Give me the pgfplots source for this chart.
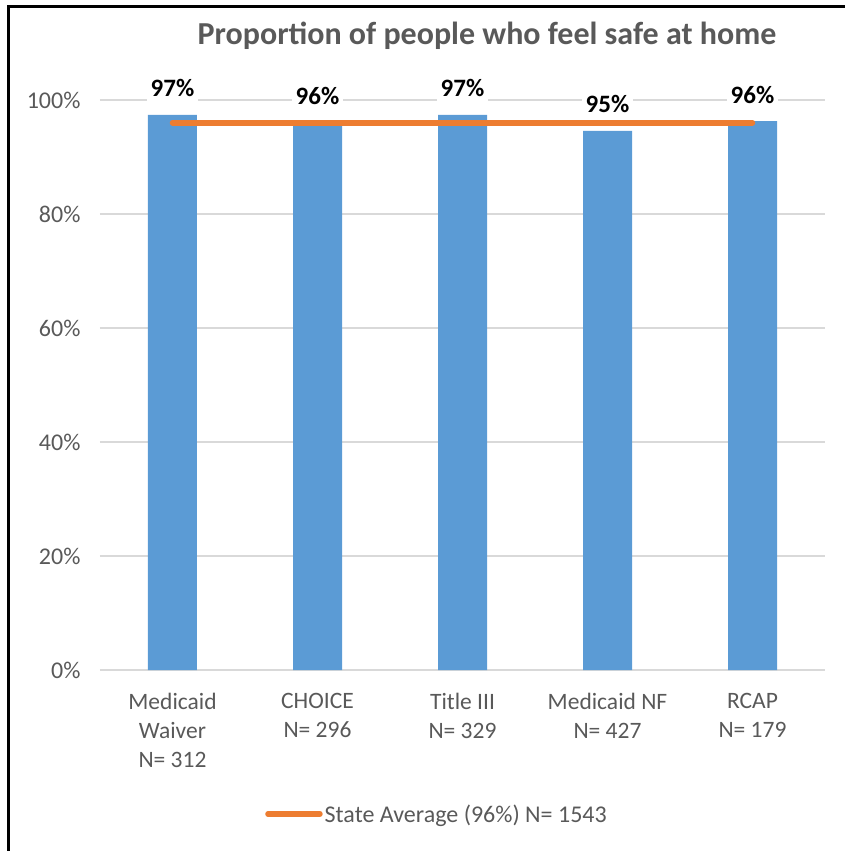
\documentclass[border=0pt]{standalone}
\usepackage{fontspec}
\setmainfont{Carlito}
\usepackage{pgfplots}
\pgfplotsset{compat=1.18}

\definecolor{barblue}{HTML}{5B9BD5}
\definecolor{avgorange}{HTML}{ED7D31}
\definecolor{txtgray}{HTML}{595959}
\definecolor{gridgray}{HTML}{D9D9D9}

\begin{document}
\begin{tikzpicture}[x=1pt,y=1pt]
  \useasboundingbox (-100,-181) rectangle (745,670);
  % frame (left and top edges only)
  \draw[black, line width=3pt] (-91.5,-181) -- (-91.5,663.5) -- (745,663.5);

  \begin{axis}[
    scale only axis,
    width=725pt, height=570pt,
    xmin=-0.5, xmax=4.5,
    ymin=0, ymax=100,
    clip=false,
    axis line style={draw=none},
    major tick length=0pt,
    ytick={0,20,40,60,80,100},
    yticklabels={0\%,20\%,40\%,60\%,80\%,100\%},
    yticklabel style={font=\fontsize{24}{28}\selectfont, text=txtgray, xshift=-16pt},
    xtick={0,1,2,3,4},
    xticklabels={{Medicaid\\Waiver\\N= 312},{CHOICE\\N= 296},{Title III\\N= 329},{Medicaid NF\\N= 427},{RCAP\\N= 179}},
    xticklabel style={font=\fontsize{23.5}{29}\selectfont, text=txtgray, align=center, yshift=-20pt},
    ymajorgrids=true,
    grid style={gridgray, line width=1.5pt},
    legend style={
      at={(axis description cs:0.2276,-0.2526)}, anchor=west,
      draw=none, fill=none, inner sep=0pt,
      font=\fontsize{24}{28}\selectfont, text=txtgray,
    },
    legend image code/.code={\draw[#1, line width=5.5pt, line cap=round] (0pt,0pt) -- (52pt,0pt);},
  ]

  \addplot[ybar, bar width=49pt, bar shift=0pt, fill=barblue, draw=none, forget plot]
  coordinates {
    (0,97.4)(1,96.0)(2,97.4)(3,94.6)(4,96.3)
  };

  \addplot[avgorange, line width=5.5pt, line cap=round, mark=none]
  coordinates {
    (0,96.0)(1,96.0)(2,96.0)(3,96.0)(4,96.0)
  };
  \addlegendentry{State Average (96\%) N= 1543}

  \addplot[
    only marks, mark=none, forget plot,
    point meta=explicit symbolic,
    nodes near coords,
    every node near coord/.append style={
      anchor=base, yshift=18pt, fill=white, inner sep=4pt,
      font=\fontsize{25}{28}\selectfont\bfseries, text=black,
    },
  ]
  coordinates {
    (0,97.4) [97\%]
    (1,96.0) [96\%]
    (2,97.4) [97\%]
    (3,94.6) [95\%]
    (4,96.3) [96\%]
  };
  \end{axis}

  \node[anchor=base, text=txtgray, font=\fontsize{32}{38}\selectfont\bfseries] at (387,625)
    {Proportion of people who feel safe at home};
\end{tikzpicture}
\end{document}
